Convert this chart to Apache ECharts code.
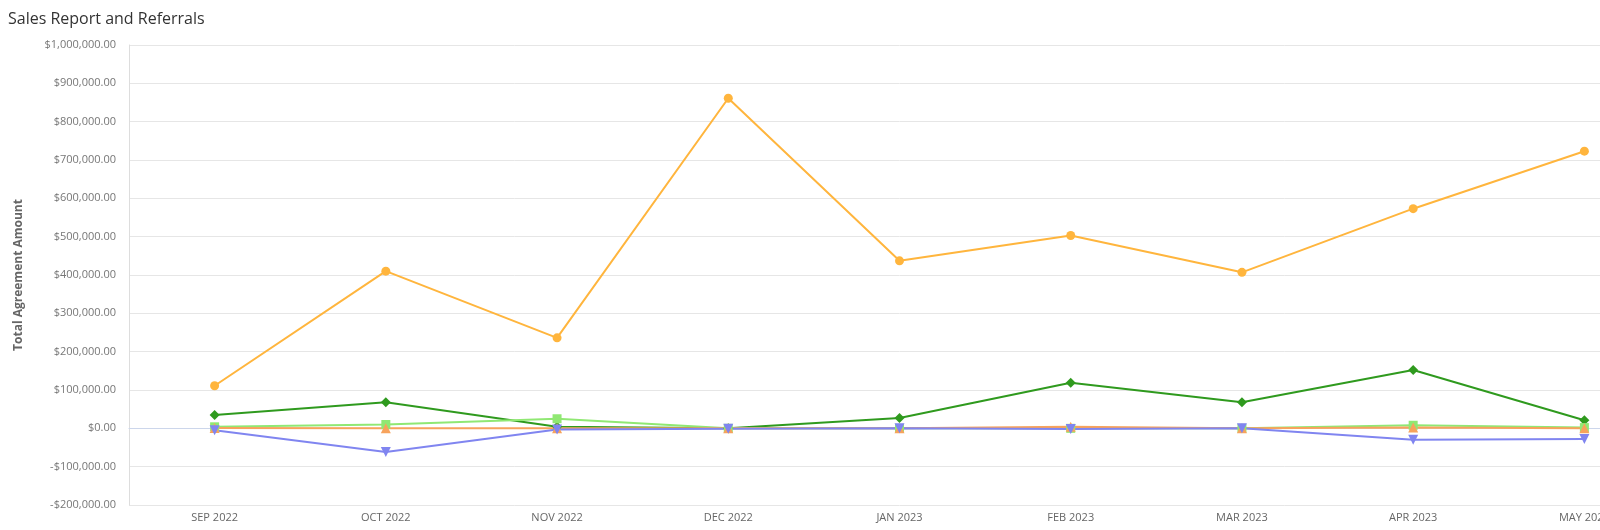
<!DOCTYPE html>
<html>
<head>
<meta charset="utf-8">
<script src="https://cdn.jsdelivr.net/npm/echarts@6/dist/echarts.min.js"></script>
<style>
  html, body { margin: 0; padding: 0; background: #fff; overflow: hidden; }
  /* the reference plot runs past the right edge, so the canvas is wider than the window */
  #chart { width: 1670px; height: 530px; }
</style>
</head>
<body>
<div id="chart"></div>
<script>
const months = ['SEP 2022', 'OCT 2022', 'NOV 2022', 'DEC 2022', 'JAN 2023', 'FEB 2023', 'MAR 2023', 'APR 2023', 'MAY 2023']
const seriesA = [111000, 410000, 236000, 861000, 437000, 503000, 407000, 573000, 723000]
const seriesB = [35000, 68000, 4000, 0, 27000, 119000, 68000, 152000, 21000]
const seriesC = [4000, 10000, 25000, 0, 0, 0, 0, 8000, 2000]
const seriesD = [1000, 0, 0, 0, 0, 4000, 0, 2000, 0]
const seriesE = [-5000, -62000, -3000, -1000, 0, -2000, 0, -30000, -28000]

const fmt = v => {
  const s = '$' + Math.abs(v).toLocaleString('en-US', { minimumFractionDigits: 2, maximumFractionDigits: 2 })
  return v < 0 ? '-' + s : s
}

const chart = echarts.init(document.getElementById('chart'))

const mkLine = (name, data, color, symbol, size, extra) => Object.assign({
  name,
  type: 'line',
  data,
  symbol,
  symbolSize: size,
  showAllSymbol: true,
  lineStyle: { color, width: 2 },
  itemStyle: { color },
}, extra || {})

const option = {
  animation: false,
  textStyle: { fontFamily: '"Open Sans", Lato, sans-serif' },
  title: {
    text: 'Sales Report and Referrals',
    left: 3,
    top: 6,
    textStyle: { fontSize: 16, fontWeight: 'normal', color: '#333333', fontFamily: '"Open Sans", sans-serif' },
  },
  grid: {
    left: 129,
    right: 0,
    top: 45,
    bottom: 25,
  },
  xAxis: {
    type: 'category',
    data: months,
    boundaryGap: true,
    axisLine: { lineStyle: { color: '#ccd6eb' } },
    axisTick: { alignWithLabel: true, length: 8, lineStyle: { color: '#ccd6eb' } },
    axisLabel: { color: '#666666', fontSize: 11, margin: 7 },
  },
  yAxis: {
    type: 'value',
    min: -200000,
    max: 1000000,
    interval: 100000,
    name: 'Total Agreement Amount',
    nameLocation: 'middle',
    nameGap: 104,
    nameTextStyle: { color: '#666666', fontSize: 12, fontWeight: 'bold' },
    axisLine: { show: true, lineStyle: { color: '#dddddd' } },
    axisTick: { show: false },
    axisLabel: { color: '#777777', fontSize: 11, margin: 13, formatter: fmt },
    splitLine: { lineStyle: { color: '#e6e6e6' } },
  },
  series: [
    mkLine('Sales', seriesA, '#ffb53d', 'circle', 9),
    mkLine('Referrals', seriesB, '#2f9a1e', 'diamond', 10),
    mkLine('Series 3', seriesC, '#90e873', 'rect', 9),
    mkLine('Series 4', seriesD, '#f7a35c', 'triangle', 10),
    mkLine('Series 5', seriesE, '#8085f0', 'triangle', 10, { symbolRotate: 180 }),
  ],
}

option && chart.setOption(option)
</script>
</body>
</html>
